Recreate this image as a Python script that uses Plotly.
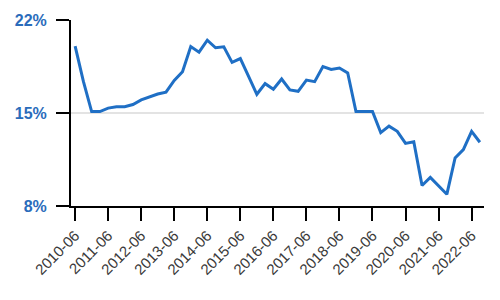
import plotly.graph_objects as go

# quarterly categories 2010-06 .. 2022-09
periods = []
for y in range(2010, 2023):
    for m in ("03", "06", "09", "12"):
        periods.append(f"{y}-{m}")
periods = periods[1:1 + 50]

values = [20.04, 17.38, 15.11, 15.11, 15.37, 15.47, 15.47, 15.64, 15.99, 16.21,
          16.43, 16.57, 17.45, 18.11, 20.00, 19.58, 20.48, 19.91, 19.98, 18.81,
          19.10, 17.75, 16.41, 17.21, 16.79, 17.56, 16.74, 16.63, 17.48, 17.36,
          18.50, 18.28, 18.39, 18.02, 15.11, 15.11, 15.11, 13.52, 14.01, 13.62,
          12.71, 12.84, 9.54, 10.15, 9.54, 8.88, 11.61, 12.25, 13.62, 12.80]

tick_labels = periods[::4]
y_ticks = [8, 15, 22]
y_tick_text = ["8%", "15%", "22%"]

fig = go.Figure(go.Scatter(
    x=periods, y=values, mode="lines",
    line=dict(color="#1f6fc5", width=3),
    hoverinfo="skip"))

fig.update_layout(
    width=500, height=300,
    margin=dict(l=71, r=16, t=15, b=94),
    paper_bgcolor="white", plot_bgcolor="white",
    showlegend=False,
    font=dict(family="Liberation Sans, Arial, sans-serif"),
)
fig.update_xaxes(
    type="category", range=[-0.5, len(periods) - 0.5],
    tickmode="array", tickvals=tick_labels, ticktext=tick_labels,
    tickangle=-45, tickfont=dict(size=15, color="#3a3a3a"),
    showline=True, linecolor="black", linewidth=2,
    ticks="outside", ticklen=13, tickwidth=2, tickcolor="black",
    showgrid=False, zeroline=False,
)
fig.update_yaxes(
    range=[8, 22], tickmode="array", tickvals=y_ticks, ticktext=y_tick_text,
    tickfont=dict(size=16, color="#2a6cbb", weight="bold"),
    ticklabelstandoff=6,
    showline=True, linecolor="black", linewidth=2,
    ticks="outside", ticklen=13, tickwidth=2, tickcolor="black",
    showgrid=True, gridcolor="#e3e3e3", gridwidth=2, zeroline=False,
)
fig.write_html("out.html")
